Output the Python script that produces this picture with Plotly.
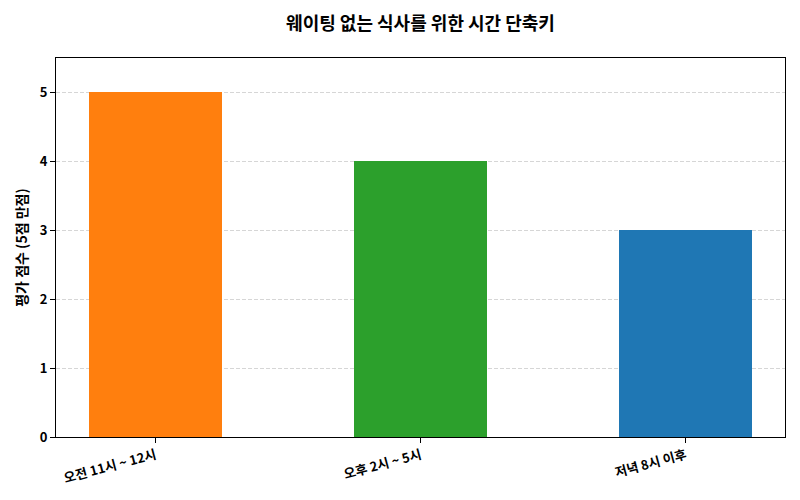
import plotly.graph_objects as go

categories = ["오전 11시 ~ 12시", "오후 2시 ~ 5시", "저녁 8시 이후"]
scores = [5, 4, 3]
colors = ["#ff7f0e", "#2ca02c", "#1f77b4"]
ytick_values = [0, 1, 2, 3, 4, 5]

FONT = "Noto Sans CJK KR"

fig = go.Figure(
    go.Bar(
        x=list(range(len(categories))),
        y=scores,
        width=0.5,
        marker=dict(color=colors, line=dict(width=0)),
    )
)

fig.update_layout(
    width=800,
    height=500,
    margin=dict(l=56, r=15, t=58, b=63),
    paper_bgcolor="white",
    plot_bgcolor="white",
    font=dict(family=FONT, size=13, color="black"),
    title=dict(
        text="<b>웨이팅 없는 식사를 위한 시간 단축키</b>",
        xref="paper",
        x=0.5,
        xanchor="center",
        y=0.953,
        yanchor="middle",
        font=dict(family=FONT, size=18, color="black"),
    ),
    showlegend=False,
    bargap=0,
)

fig.update_xaxes(
    automargin=False,
    range=[-0.375, 2.375],
    tickmode="array",
    tickvals=list(range(len(categories))),
    ticktext=[f"<b>{c}</b>" for c in categories],
    tickangle=-15,
    ticks="outside",
    ticklen=5,
    tickcolor="black",
    showline=True,
    linecolor="black",
    linewidth=1,
    mirror=True,
    showgrid=False,
    zeroline=False,
    tickfont=dict(family=FONT, size=13, color="black"),
)

fig.update_yaxes(
    automargin=False,
    range=[0, 5.5],
    tickmode="array",
    tickvals=ytick_values,
    ticktext=[f"<b>{v}</b>" for v in ytick_values],
    ticks="outside",
    ticklen=5,
    tickcolor="black",
    showline=True,
    linecolor="black",
    linewidth=1,
    mirror=True,
    showgrid=True,
    gridcolor="#d6d6d6",
    griddash="4px,2px",
    gridwidth=1,
    zeroline=False,
    title=dict(text="<b>평가 점수 (5점 만점)</b>", font=dict(family=FONT, size=14, color="black"), standoff=8),
    tickfont=dict(family=FONT, size=13, color="black"),
)

fig.write_html(
    "out.html",
    config={"displayModeBar": False},
    post_script="document.body.style.margin='0';",
)
